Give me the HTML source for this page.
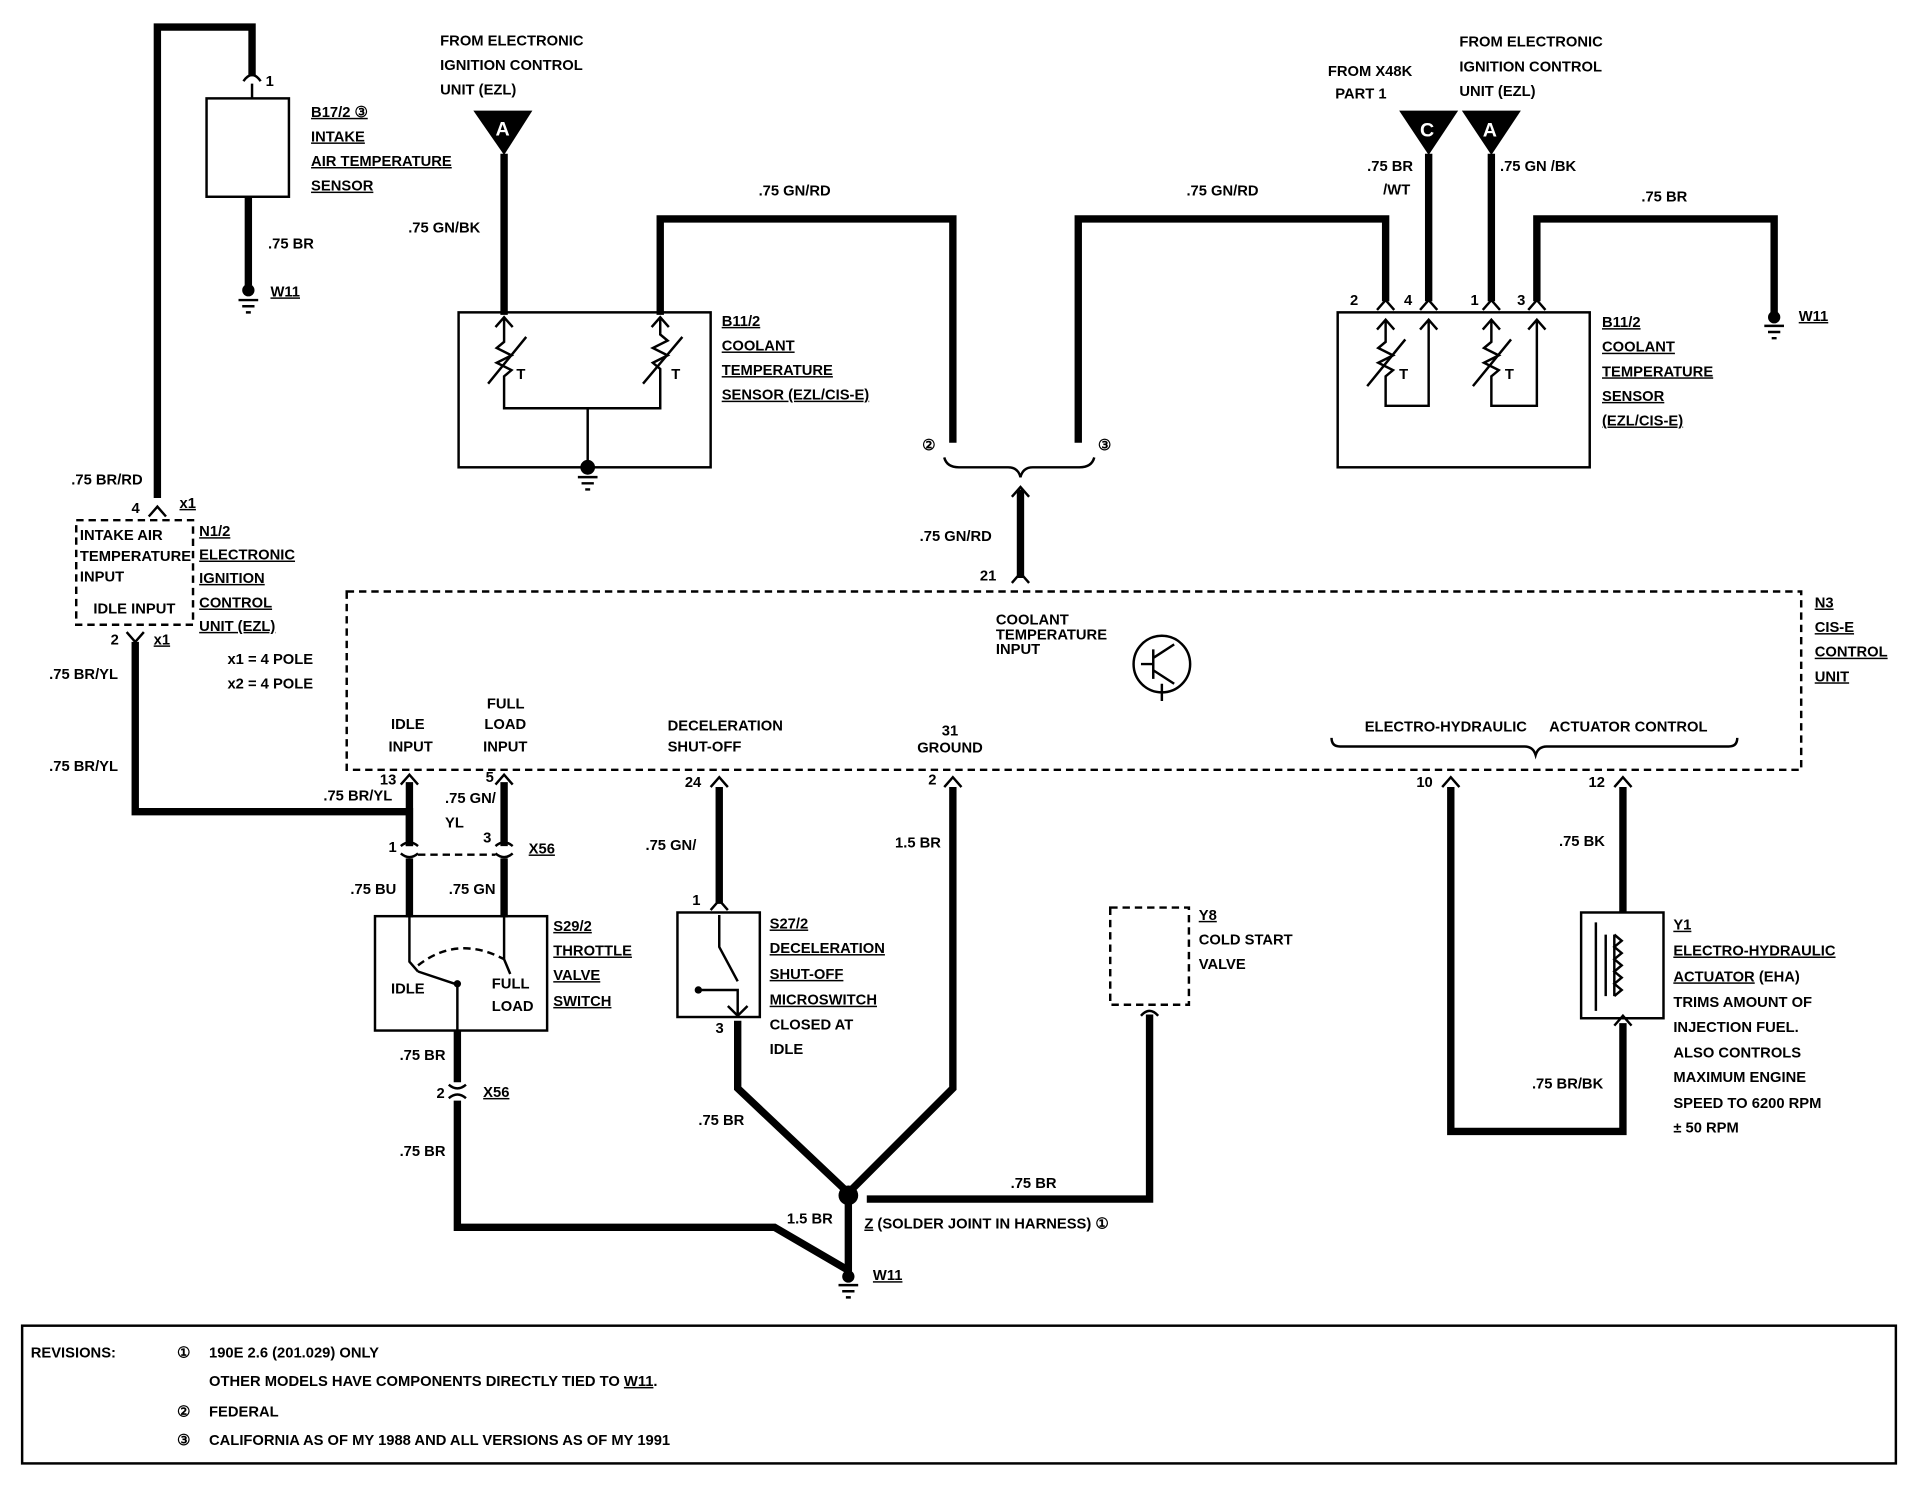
<!DOCTYPE html>
<html><head><meta charset="utf-8"><style>
html,body{margin:0;padding:0;background:#fff;}
svg{display:block;}
text{font-family:"Liberation Sans",sans-serif;font-weight:bold;font-size:12px;fill:#000;}
.w{fill:none;stroke:#000;stroke-width:6;stroke-linejoin:miter;}
.t{fill:none;stroke:#000;stroke-width:2;}
.d{fill:none;stroke:#000;stroke-width:2;stroke-dasharray:6,4;}
.u{text-decoration:underline;}
</style></head><body>
<svg width="1918" height="1504" viewBox="0 0 1560 1223" preserveAspectRatio="none" xmlns="http://www.w3.org/2000/svg">
<!-- Left intake wire -->
<path class="w" d="M128,405 V22 H205 V62"/>
<path class="t" d="M198,66 Q205,56 212,66"/>
<text x="216" y="70">1</text>
<rect x="168" y="80" width="67" height="80" class="t" stroke-width="3"/>
<line x1="205" y1="68" x2="205" y2="80" class="t"/>
<path class="w" d="M202,160 V232"/>
<circle cx="202" cy="236" r="5"/>
<path class="t" d="M194,244 H210 M197,249 H207 M200,254 H204"/>
<text x="218" y="202">.75 BR</text>
<text x="220" y="241" class="u">W11</text>
<text x="253" y="95" class="u">B17/2 ③</text>
<text x="253" y="115" class="u">INTAKE</text>
<text x="253" y="135" class="u">AIR TEMPERATURE</text>
<text x="253" y="155" class="u">SENSOR</text>

<text x="58" y="394">.75 BR/RD</text>
<text x="107" y="417">4</text><text x="146" y="413" class="u">x1</text>
<path class="t" d="M121,420 L128,412 L135,420"/>
<rect x="62" y="423" width="95" height="85" class="d"/>
<text x="65" y="439" font-size="11">INTAKE AIR</text>
<text x="65" y="456" font-size="11">TEMPERATURE</text>
<text x="65" y="473" font-size="11">INPUT</text>
<text x="76" y="499" font-size="11">IDLE INPUT</text>
<text x="162" y="436" class="u">N1/2</text>
<text x="162" y="455" class="u">ELECTRONIC</text>
<text x="162" y="474" class="u">IGNITION</text>
<text x="162" y="494" class="u">CONTROL</text>
<text x="162" y="513" class="u">UNIT (EZL)</text>
<text x="90" y="524">2</text><text x="125" y="524" class="u">x1</text>
<path class="t" d="M103,514 L110,522 L117,514"/>
<text x="185" y="540">x1 = 4 POLE</text>
<text x="185" y="560">x2 = 4 POLE</text>
<text x="40" y="552">.75 BR/YL</text>
<text x="40" y="627">.75 BR/YL</text>
<path class="w" d="M110,522 V660 H333 V688"/>

<!-- A connector left -->
<text x="358" y="37">FROM ELECTRONIC</text>
<text x="358" y="57">IGNITION CONTROL</text>
<text x="358" y="77">UNIT (EZL)</text>
<polygon points="385,90 433,90 410,126"/>
<text x="403" y="110" style="fill:#fff;font-size:16px">A</text>
<path class="w" d="M410,125 V256"/>
<text x="332" y="189">.75 GN/BK</text>
<path class="w" d="M537,256 V178 H775 V360"/>
<text x="617" y="159">.75 GN/RD</text>
<rect x="373" y="254" width="205" height="126" class="t" stroke-width="3"/>
<path class="t" d="M403,266 L410,258 L417,266 M410,258 V278 l-6,5 12,6 -12,6 12,6 -6,5 V332 H537 V300 l-6,-5 12,-6 -12,-6 12,-6 -6,-5 V258 M530,266 L537,258 L544,266"/>
<path class="t" d="M397,312 L428,274 M523,312 L555,274"/>
<text x="420" y="308">T</text><text x="546" y="308">T</text>
<path class="t" d="M478,332 V378"/>
<circle cx="478" cy="380" r="6"/>
<path class="t" d="M470,388 H486 M473,393 H483 M476,398 H480"/>
<text x="587" y="265" class="u">B11/2</text>
<text x="587" y="285" class="u">COOLANT</text>
<text x="587" y="305" class="u">TEMPERATURE</text>
<text x="587" y="325" class="u">SENSOR (EZL/CIS-E)</text>

<!-- middle -->
<text x="750" y="366" font-size="15">②</text>
<text x="893" y="366" font-size="15">③</text>
<path class="w" d="M877,360 V178 H1127 V245"/>
<text x="965" y="159">.75 GN/RD</text>
<path class="t" d="M768,372 Q770,380 780,380 H820 Q828,380 830,388 Q832,380 840,380 H878 Q888,380 890,372"/>
<path class="w" d="M830,398 V470"/>
<path class="t" d="M823,404 L830,396 L837,404 M823,474 L830,466 L837,474"/>
<text x="748" y="440">.75 GN/RD</text>
<text x="797" y="472">21</text>

<!-- right top -->
<text x="1080" y="62">FROM X48K</text>
<text x="1086" y="80">PART 1</text>
<text x="1187" y="38">FROM ELECTRONIC</text>
<text x="1187" y="58">IGNITION CONTROL</text>
<text x="1187" y="78">UNIT (EZL)</text>
<polygon points="1138,90 1186,90 1162,126"/>
<text x="1155" y="111" style="fill:#fff;font-size:16px">C</text>
<polygon points="1189,90 1237,90 1213,126"/>
<text x="1206" y="111" style="fill:#fff;font-size:16px">A</text>
<path class="w" d="M1162,125 V245 M1213,125 V245"/>
<path class="w" d="M1250,245 V178 H1443 V255"/>
<circle cx="1443" cy="258" r="5"/>
<path class="t" d="M1435,265 H1451 M1438,270 H1448 M1441,275 H1445"/>
<text x="1463" y="261" class="u">W11</text>
<text x="1335" y="164">.75 BR</text>
<text x="1112" y="139">.75 BR</text>
<text x="1125" y="158">/WT</text>
<text x="1220" y="139">.75 GN /BK</text>
<text x="1098" y="248">2</text><text x="1142" y="248">4</text><text x="1196" y="248">1</text><text x="1234" y="248">3</text>
<path class="t" d="M1120,252 L1127,244 L1134,252 M1155,252 L1162,244 L1169,252 M1206,252 L1213,244 L1220,252 M1243,252 L1250,244 L1257,252"/>
<rect x="1088" y="254" width="205" height="126" class="t" stroke-width="3"/>
<path class="t" d="M1120,268 L1127,260 L1134,268 M1127,260 V278 l-6,5 12,6 -12,6 12,6 -6,5 V330 H1162 V260 M1155,268 L1162,260 L1169,268"/>
<path class="t" d="M1206,268 L1213,260 L1220,268 M1213,260 V278 l-6,5 12,6 -12,6 12,6 -6,5 V330 H1250 V260 M1243,268 L1250,260 L1257,268"/>
<path class="t" d="M1112,314 L1143,276 M1198,314 L1229,276"/>
<text x="1138" y="308">T</text><text x="1224" y="308">T</text>
<text x="1303" y="266" class="u">B11/2</text>
<text x="1303" y="286" class="u">COOLANT</text>
<text x="1303" y="306" class="u">TEMPERATURE</text>
<text x="1303" y="326" class="u">SENSOR</text>
<text x="1303" y="346" class="u">(EZL/CIS-E)</text>

<!-- N3 -->
<rect x="282" y="481" width="1183" height="145" class="d" stroke-width="3"/>
<text x="1476" y="494" class="u">N3</text>
<text x="1476" y="514" class="u">CIS-E</text>
<text x="1476" y="534" class="u">CONTROL</text>
<text x="1476" y="554" class="u">UNIT</text>
<text x="810" y="508" font-size="8">COOLANT</text>
<text x="810" y="520" font-size="8">TEMPERATURE</text>
<text x="810" y="532" font-size="8">INPUT</text>
<circle cx="945" cy="540" r="23" class="t" stroke-width="3"/>
<path class="t" d="M928,540 H938 M938,528 V552 M938,535 L955,524 M938,545 L955,556 M945,556 V570"/>
<text x="318" y="593">IDLE</text><text x="316" y="611">INPUT</text>
<text x="396" y="576">FULL</text><text x="394" y="593">LOAD</text><text x="393" y="611">INPUT</text>
<text x="543" y="594">DECELERATION</text><text x="543" y="611">SHUT-OFF</text>
<text x="766" y="598">31</text><text x="746" y="612">GROUND</text>
<path class="t" d="M1083,600 Q1083,607 1090,607 H1240 Q1247,607 1249,614 Q1251,607 1258,607 H1406 Q1413,607 1413,600"/>
<text x="1110" y="595">ELECTRO-HYDRAULIC</text><text x="1260" y="595">ACTUATOR CONTROL</text>

<!-- pins -->
<text x="309" y="638">13</text><text x="395" y="636">5</text><text x="557" y="640">24</text><text x="755" y="638">2</text><text x="1152" y="640">10</text><text x="1292" y="640">12</text>
<path class="t" d="M326,638 L333,630 L340,638 M403,638 L410,630 L417,638 M578,640 L585,632 L592,640 M768,640 L775,632 L782,640 M1173,640 L1180,632 L1187,640 M1313,640 L1320,632 L1327,640"/>
<path class="w" d="M333,636 V688 M410,636 V688 M585,640 V735 M775,640 V885 L690,970 M1180,640 V920 H1320 V832 M1320,640 V742"/>
<text x="263" y="651">.75 BR/YL</text>
<text x="362" y="653">.75 GN/</text><text x="362" y="673">YL</text>
<text x="316" y="693">1</text><text x="393" y="685">3</text><text x="430" y="694" class="u">X56</text>
<path class="t" d="M326,688 Q333,682 340,688 M326,694 Q333,700 340,694 M403,688 Q410,682 417,688 M403,694 Q410,700 417,694"/>
<line x1="340" y1="695" x2="403" y2="695" class="d" stroke-width="1.5"/>
<path class="w" d="M333,698 V746 M410,698 V746"/>
<text x="285" y="727">.75 BU</text><text x="365" y="727">.75 GN</text>
<text x="525" y="691">.75 GN/</text>
<text x="728" y="689">1.5 BR</text>

<!-- S29/2 -->
<rect x="305" y="745" width="140" height="93" class="t" stroke-width="3"/>
<path class="t" d="M333,746 V782 L340,790 M410,746 V780 L415,792 M340,790 L370,800 M372,800 V838"/>
<circle cx="372" cy="800" r="3"/>
<path class="d" d="M340,785 Q372,760 410,780" stroke-width="1.5"/>
<text x="318" y="808">IDLE</text><text x="400" y="804">FULL</text><text x="400" y="822">LOAD</text>
<text x="450" y="757" class="u">S29/2</text>
<text x="450" y="777" class="u">THROTTLE</text>
<text x="450" y="797" class="u">VALVE</text>
<text x="450" y="818" class="u">SWITCH</text>
<path class="w" d="M372,838 V880 M372,895 V998 H630 L690,1033"/>
<path class="t" d="M365,882 Q372,888 379,882 M365,893 Q372,887 379,893"/>
<text x="325" y="862">.75 BR</text><text x="355" y="893">2</text><text x="393" y="892" class="u">X56</text>
<text x="325" y="940">.75 BR</text>

<!-- S27/2 -->
<text x="563" y="736">1</text>
<path class="t" d="M578,740 L585,732 L592,740"/>
<rect x="551" y="742" width="67" height="85" class="t" stroke-width="3"/>
<path class="t" d="M585,744 V770 L600,798 M568,805 H600 V825 M592,818 L600,826 L608,818"/>
<circle cx="568" cy="805" r="3"/>
<text x="626" y="755" class="u">S27/2</text>
<text x="626" y="775" class="u">DECELERATION</text>
<text x="626" y="796" class="u">SHUT-OFF</text>
<text x="626" y="817" class="u">MICROSWITCH</text>
<text x="626" y="837">CLOSED AT</text>
<text x="626" y="857">IDLE</text>
<text x="582" y="840">3</text>
<path class="w" d="M600,830 V885 L690,970"/>
<text x="568" y="915">.75 BR</text>

<!-- Y8 -->
<rect x="903" y="738" width="64" height="79" class="d" stroke-width="3"/>
<path class="t" d="M928,826 Q935,818 942,826"/>
<path class="w" d="M935,825 V975 H705"/>
<text x="975" y="748" class="u">Y8</text>
<text x="975" y="768">COLD START</text>
<text x="975" y="788">VALVE</text>
<text x="822" y="966">.75 BR</text>

<circle cx="690" cy="972" r="8"/>
<path class="w" d="M690,972 V1035"/>
<circle cx="690" cy="1038" r="5"/>
<path class="t" d="M682,1045 H698 M685,1050 H695 M688,1055 H692"/>
<text x="640" y="995">1.5 BR</text>
<text x="703" y="999"><tspan class="u">Z</tspan> (SOLDER JOINT IN HARNESS) ①</text>
<text x="710" y="1041" class="u">W11</text>

<!-- Y1 -->
<rect x="1286" y="742" width="67" height="86" class="t" stroke-width="3"/>
<path class="t" d="M1298,750 V822 M1306,760 V810 M1313,760 V810 M1313,760 l6,5 -6,5 6,5 -6,5 6,5 -6,5 6,5 -6,5 6,5 -6,5"/>
<path class="t" d="M1313,834 L1320,826 L1327,834"/>
<text x="1268" y="688">.75 BK</text>
<text x="1246" y="885">.75 BR/BK</text>
<text x="1361" y="756" class="u">Y1</text>
<text x="1361" y="777" class="u">ELECTRO-HYDRAULIC</text>
<text x="1361" y="798"><tspan class="u">ACTUATOR</tspan> (EHA)</text>
<text x="1361" y="819">TRIMS AMOUNT OF</text>
<text x="1361" y="839">INJECTION FUEL.</text>
<text x="1361" y="860">ALSO CONTROLS</text>
<text x="1361" y="880">MAXIMUM ENGINE</text>
<text x="1361" y="901">SPEED TO 6200 RPM</text>
<text x="1361" y="921">± 50 RPM</text>

<!-- Revisions -->
<rect x="18" y="1078" width="1524" height="112" class="t"/>
<text x="25" y="1104" font-size="16">REVISIONS:</text>
<text x="144" y="1104" font-size="15">①</text><text x="170" y="1104">190E 2.6 (201.029) ONLY</text>
<text x="170" y="1127">OTHER MODELS HAVE COMPONENTS DIRECTLY TIED TO <tspan class="u">W11</tspan>.</text>
<text x="144" y="1152" font-size="15">②</text><text x="170" y="1152">FEDERAL</text>
<text x="144" y="1175" font-size="15">③</text><text x="170" y="1175">CALIFORNIA AS OF MY 1988 AND ALL VERSIONS AS OF MY 1991</text>
</svg>
</body></html>
